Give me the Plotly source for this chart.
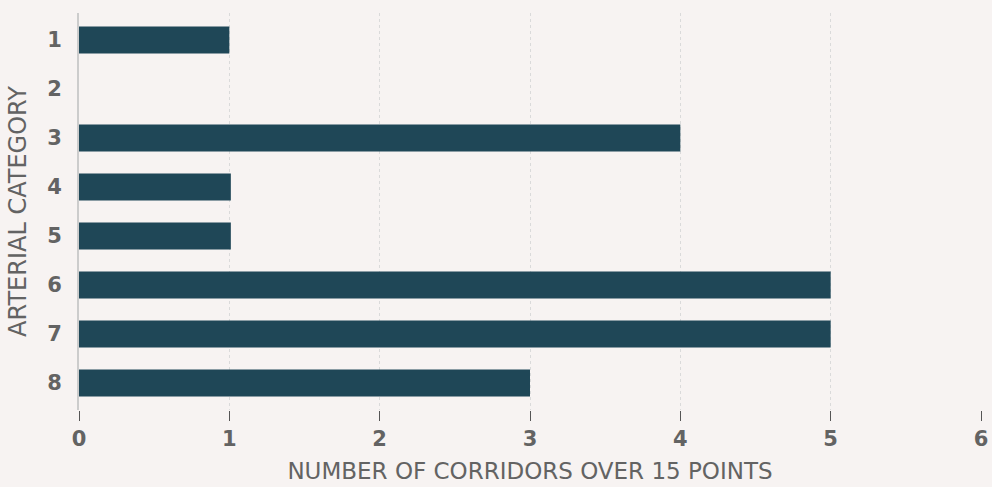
import plotly.graph_objects as go

categories = ["1", "2", "3", "4", "5", "6", "7", "8"]
values = [1, 0, 4, 1.01, 1.01, 5, 5, 3]
x_ticks = [0, 1, 2, 3, 4, 5, 6]

BG = "#f7f3f2"
BAR = "#1f4757"
TXT = "#636363"
FONT = "DejaVu Sans"

fig = go.Figure(go.Bar(
    x=values, y=categories, orientation="h",
    marker=dict(color=BAR, line=dict(width=0)),
    width=0.55,
))

fig.update_layout(
    width=992, height=487,
    paper_bgcolor=BG, plot_bgcolor=BG,
    margin=dict(l=79, r=11, t=13, b=77),
    showlegend=False,
    font=dict(family=FONT, color=TXT),
)
fig.update_xaxes(
    range=[0, 6], tickvals=x_ticks, automargin=False,
    showgrid=True, gridcolor="#dadada", griddash="dot", gridwidth=1,
    zeroline=False, showline=False,
    ticks="outside", ticklen=10, tickcolor="#555555", tickwidth=1,
    tickfont=dict(family=FONT, size=21, color=TXT, weight="bold"),
    title=dict(text="NUMBER OF CORRIDORS OVER 15 POINTS",
               font=dict(family=FONT, size=23, color=TXT), standoff=12),
)
fig.update_yaxes(
    categoryorder="array", categoryarray=categories,
    autorange=False, range=[7.55, -0.55], automargin=False,
    showgrid=False, zeroline=False,
    showline=True, linecolor="#cccccc", linewidth=2,
    ticks="", ticklabelstandoff=11,
    tickfont=dict(family=FONT, size=21, color=TXT, weight="bold"),
    title=dict(text="ARTERIAL CATEGORY",
               font=dict(family=FONT, size=24, color=TXT), standoff=14),
)

fig.write_html("out.html", config={"displayModeBar": False},
               post_script="document.body.style.margin='0';")
